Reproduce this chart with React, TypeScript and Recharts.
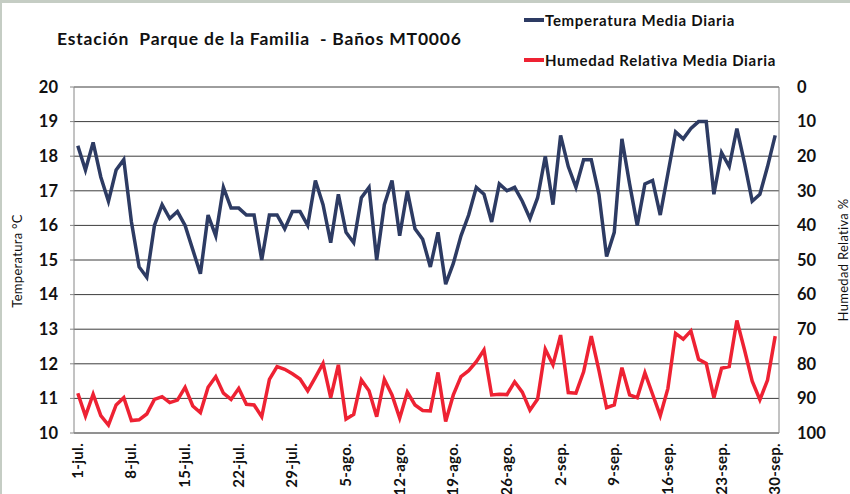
import { LineChart, Line, XAxis, YAxis, CartesianGrid } from "recharts";

// month names and day counts for jul-sep
const MONTHS = [
  { name: "jul.", days: 31 },
  { name: "ago.", days: 31 },
  { name: "sep.", days: 30 },
];

const TEMP = [
  18.3, 17.6, 18.4, 17.4, 16.7, 17.6, 17.9, 16.1, 14.8, 14.5, 16.0, 16.6, 16.2, 16.4, 16.0, 15.3,
  14.6, 16.3, 15.7, 17.1, 16.5, 16.5, 16.3, 16.3, 15.0, 16.3, 16.3, 15.9, 16.4, 16.4, 16.0,
  17.3, 16.6, 15.5, 16.9, 15.8, 15.5, 16.8, 17.1, 15.0, 16.6, 17.3, 15.7, 17.0, 15.9, 15.6, 14.8,
  15.8, 14.3, 14.9, 15.7, 16.3, 17.1, 16.9, 16.1, 17.2, 17.0, 17.1, 16.7, 16.2, 16.8, 18.0,
  16.6, 18.6, 17.7, 17.1, 17.9, 17.9, 16.9, 15.1, 15.8, 18.5, 17.2, 16.0, 17.2, 17.3, 16.3,
  17.5, 18.7, 18.5, 18.8, 19.0, 19.0, 16.9, 18.1, 17.7, 18.8, 17.8, 16.7, 16.9, 17.7, 18.6,
];

const HUM = [
  88.5, 95.1, 88.8, 95.0, 97.7, 91.9, 89.8, 96.4, 96.2, 94.5, 90.3, 89.5, 91.2, 90.5, 86.8, 92.2,
  94.1, 86.8, 83.7, 88.5, 90.3, 87.1, 91.7, 91.9, 95.3, 84.5, 80.8, 81.6, 82.9, 84.4, 87.8,
  83.9, 79.9, 89.8, 80.3, 96.0, 94.6, 84.7, 87.8, 95.3, 84.5, 89.0, 95.7, 88.2, 91.9, 93.5, 93.6,
  82.5, 96.7, 89.0, 83.7, 82.0, 79.4, 76.0, 89.0, 88.8, 88.9, 85.2, 88.2, 93.4, 90.2, 75.8,
  80.3, 71.7, 88.3, 88.5, 82.3, 72.0, 81.9, 92.7, 91.9, 81.1, 89.0, 89.8, 82.6, 88.8, 95.0,
  87.1, 71.2, 72.9, 70.5, 78.7, 79.9, 89.8, 81.3, 80.8, 67.5, 76.0, 85.0, 90.4, 84.7, 72.0,
];

const TEMP_TICKS = [10, 11, 12, 13, 14, 15, 16, 17, 18, 19, 20];
const HUM_TICKS = [0, 10, 20, 30, 40, 50, 60, 70, 80, 90, 100];

const DATES: string[] = [];
MONTHS.forEach((m) => {
  for (let d = 1; d <= m.days; d++) DATES.push(`${d}-${m.name}`);
});

const data = DATES.map((date, i) => ({ date, temp: TEMP[i], hum: HUM[i] }));

const FONT = "Lato, 'Open Sans', sans-serif";
const NAVY = "#2d3b63";
const RED = "#ee2233";
const AXIS = "#868686";

function DateTick(props: any) {
  const { x, y, payload } = props;
  return (
    <text
      x={x}
      y={y}
      dy={5}
      transform={`rotate(-90 ${x} ${y})`}
      textAnchor="end"
      fontFamily={FONT}
      fontWeight={700}
      fontSize={15}
      letterSpacing={0.3}
      fill="#111"
    >
      {payload.value}
    </text>
  );
}

export default function App() {
  return (
    <div
      style={{
        position: "absolute",
        left: 0,
        top: 0,
        width: 850,
        height: 494,
        background: "#fff",
        overflow: "hidden",
        fontFamily: FONT,
      }}
    >
      <div style={{ position: "absolute", left: 0, top: 0, width: 850, height: 3, background: "#c5cdc4" }} />
      <div style={{ position: "absolute", left: 0, top: 0, width: 2, height: 494, background: "#c5cdc4" }} />

      <div
        style={{
          position: "absolute",
          left: 57,
          top: 28,
          fontSize: 17.5,
          fontWeight: 700,
          letterSpacing: 0.8,
          color: "#111",
          whiteSpace: "pre",
        }}
      >
        {"Estación  Parque de la Familia  - Baños MT0006"}
      </div>

      {[
        { label: "Temperatura Media Diaria", color: NAVY, top: 11 },
        { label: "Humedad Relativa Media Diaria", color: RED, top: 51 },
      ].map((l) => (
        <div
          key={l.label}
          style={{ position: "absolute", left: 524, top: l.top, display: "flex", alignItems: "center", whiteSpace: "nowrap" }}
        >
          <span style={{ display: "inline-block", width: 20, height: 4, background: l.color, marginRight: 1 }} />
          <span style={{ fontSize: 15, fontWeight: 700, letterSpacing: 0.7, color: "#111" }}>{l.label}</span>
        </div>
      ))}

      <div
        style={{
          position: "absolute",
          left: 17,
          top: 261,
          transform: "translate(-50%, -50%) rotate(-90deg)",
          fontSize: 13,
          letterSpacing: 0.3,
          whiteSpace: "nowrap",
          color: "#111",
        }}
      >
        Temperatura °C
      </div>
      <div
        style={{
          position: "absolute",
          left: 843,
          top: 260,
          transform: "translate(-50%, -50%) rotate(-90deg)",
          fontSize: 13,
          letterSpacing: 0.3,
          whiteSpace: "nowrap",
          color: "#111",
        }}
      >
        Humedad Relativa %
      </div>

      <div style={{ position: "absolute", left: 0, top: 0 }}>
        <LineChart width={850} height={494} data={data} margin={{ top: 87, right: 0, left: 0, bottom: 0 }}>
          <CartesianGrid vertical={false} stroke="#3c3c3c" yAxisId="left" horizontalValues={TEMP_TICKS} />
          <XAxis
            dataKey="date"
            interval={6}
            height={61}
            padding={{ left: 3.8, right: 3.8 }}
            tickLine={false}
            tickSize={0}
            tickMargin={10}
            axisLine={{ stroke: AXIS }}
            tick={<DateTick />}
          />
          <YAxis
            yAxisId="left"
            orientation="left"
            width={74}
            domain={[10, 20]}
            ticks={TEMP_TICKS}
            allowDataOverflow
            axisLine={{ stroke: AXIS }}
            tickLine={{ stroke: AXIS }}
            tickSize={4}
            tickMargin={12}
            tick={{ fontFamily: FONT, fontWeight: 700, fontSize: 16.5, fill: "#111" }}
          />
          <YAxis
            yAxisId="right"
            orientation="right"
            width={71}
            domain={[0, 100]}
            reversed
            ticks={HUM_TICKS}
            axisLine={{ stroke: AXIS }}
            tickLine={false}
            tickSize={0}
            tickMargin={18}
            tick={{ fontFamily: FONT, fontWeight: 700, fontSize: 16.5, fill: "#111" }}
          />
          <Line
            yAxisId="left"
            dataKey="temp"
            stroke={NAVY}
            strokeWidth={3.5}
            dot={false}
            isAnimationActive={false}
            strokeLinejoin="miter"
          />
          <Line
            yAxisId="right"
            dataKey="hum"
            stroke={RED}
            strokeWidth={3.5}
            dot={false}
            isAnimationActive={false}
            strokeLinejoin="miter"
          />
        </LineChart>
      </div>
    </div>
  );
}
